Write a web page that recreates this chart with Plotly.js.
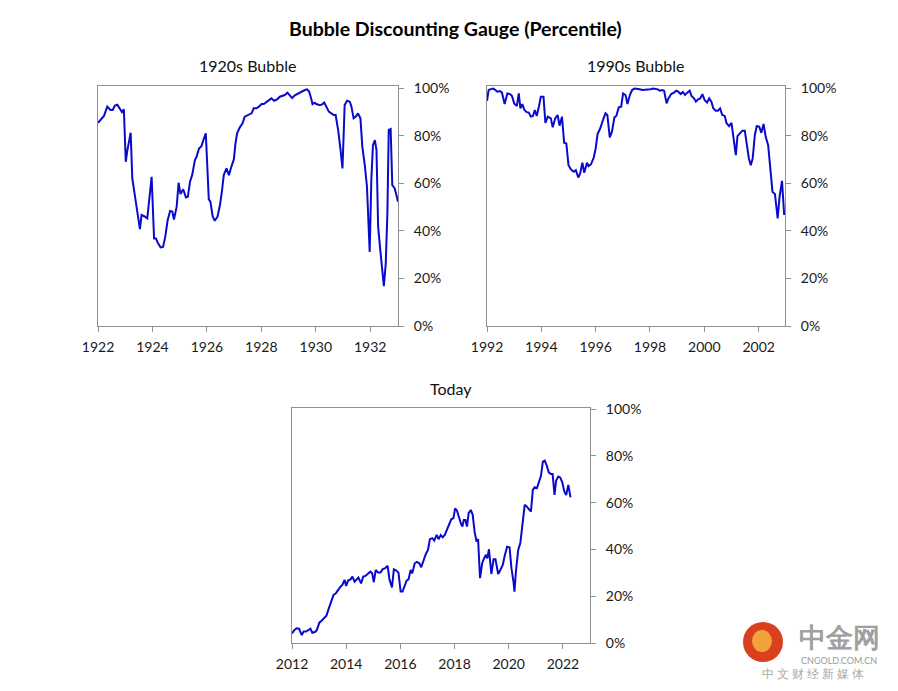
<!DOCTYPE html>
<html><head><meta charset="utf-8">
<script src="https://cdn.plot.ly/plotly-3.0.1.min.js"></script>
<style>html,body{margin:0;padding:0;background:#fff}</style>
</head><body><div id="chart" style="width:898px;height:691px"></div>
<script>
// 1920s Bubble (decimal years, percentile %)
const x1920s = [1922.00,1922.13,1922.22,1922.34,1922.46,1922.54,1922.62,1922.71,1922.81,1922.88,1922.95,1923.02,1923.08,1923.20,1923.26,1923.36,1923.46,1923.54,1923.60,1923.70,1923.81,1923.88,1923.97,1924.06,1924.13,1924.21,1924.30,1924.39,1924.47,1924.56,1924.65,1924.73,1924.79,1924.89,1924.96,1925.03,1925.13,1925.23,1925.30,1925.38,1925.46,1925.56,1925.62,1925.71,1925.80,1925.87,1925.96,1926.07,1926.13,1926.21,1926.29,1926.39,1926.48,1926.55,1926.62,1926.72,1926.81,1926.89,1926.99,1927.05,1927.11,1927.21,1927.31,1927.39,1927.52,1927.64,1927.72,1927.82,1927.91,1928.01,1928.09,1928.19,1928.29,1928.37,1928.47,1928.58,1928.68,1928.78,1928.86,1928.96,1929.05,1929.13,1929.23,1929.31,1929.41,1929.50,1929.60,1929.68,1929.76,1929.82,1929.88,1929.96,1930.02,1930.12,1930.21,1930.31,1930.39,1930.48,1930.57,1930.66,1930.73,1930.82,1930.91,1930.98,1931.03,1931.06,1931.15,1931.25,1931.31,1931.39,1931.47,1931.55,1931.64,1931.71,1931.80,1931.88,1931.98,1932.04,1932.10,1932.17,1932.23,1932.29,1932.37,1932.45,1932.50,1932.57,1932.63,1932.68,1932.75,1932.81,1932.90,1932.96,1933.02];
const y1920s = [85.5,87.4,88.4,92.3,90.9,90.9,92.8,93.1,91.2,90.0,91.2,69.1,74.0,81.3,62.1,55.1,47.4,40.8,46.7,46.2,45.3,54.4,62.8,36.8,36.8,34.7,33.1,33.3,37.5,44.6,48.4,48.2,44.8,50.2,60.3,55.5,57.5,54.1,54.4,60.7,63.5,69.8,71.2,74.7,75.7,78.2,81.1,53.3,52.3,46.2,44.3,46.0,50.9,56.5,63.5,66.3,63.5,66.7,70.1,76.8,81.1,83.6,85.3,88.1,88.8,89.5,91.6,91.6,92.3,93.4,93.4,94.4,95.1,95.8,94.8,95.4,96.5,96.8,97.2,98.2,96.8,95.9,97.1,97.6,98.2,99.0,99.3,99.6,98.6,96.2,93.4,94.0,93.4,93.0,93.1,94.0,92.3,90.2,89.5,88.8,88.8,82.5,74.0,66.3,82.5,93.0,94.8,94.4,92.3,87.4,88.1,89.5,87.4,75.4,67.7,58.6,31.2,61.4,76.1,78.2,74.0,41.8,31.9,22.1,16.8,26.3,47.4,82.5,82.9,59.3,57.9,55.1,52.3];

// 1990s Bubble
const x1990s = [1992.00,1992.06,1992.14,1992.23,1992.31,1992.38,1992.48,1992.55,1992.65,1992.75,1992.85,1992.92,1993.00,1993.10,1993.17,1993.23,1993.30,1993.38,1993.46,1993.54,1993.61,1993.69,1993.76,1993.83,1993.91,1993.98,1994.08,1994.15,1994.24,1994.35,1994.42,1994.51,1994.60,1994.67,1994.76,1994.84,1994.92,1995.00,1995.09,1995.19,1995.27,1995.36,1995.43,1995.51,1995.58,1995.68,1995.74,1995.83,1995.93,1996.00,1996.07,1996.17,1996.27,1996.36,1996.43,1996.52,1996.60,1996.69,1996.76,1996.85,1996.94,1997.01,1997.10,1997.17,1997.26,1997.34,1997.43,1997.53,1997.62,1997.72,1997.82,1997.92,1998.02,1998.12,1998.22,1998.29,1998.36,1998.45,1998.52,1998.61,1998.68,1998.78,1998.88,1998.97,1999.04,1999.13,1999.21,1999.29,1999.37,1999.46,1999.53,1999.62,1999.69,1999.77,1999.85,1999.93,2000.01,2000.10,2000.18,2000.26,2000.33,2000.42,2000.50,2000.58,2000.66,2000.75,2000.82,2000.91,2001.00,2001.07,2001.16,2001.22,2001.32,2001.40,2001.49,2001.56,2001.64,2001.71,2001.78,2001.86,2001.93,2002.02,2002.10,2002.18,2002.26,2002.35,2002.42,2002.51,2002.60,2002.70,2002.77,2002.86,2002.94];
const y1990s = [94.8,99.3,99.7,99.9,99.3,98.6,98.9,98.2,93.4,97.9,97.6,96.8,93.7,92.6,97.9,91.6,93.4,90.9,90.0,89.8,88.1,88.4,90.9,88.4,92.3,96.5,96.5,85.5,88.1,87.4,83.6,87.4,88.8,84.3,88.1,77.1,76.8,67.7,65.9,64.9,65.6,62.5,64.2,68.7,64.5,68.7,67.3,68.1,70.9,74.7,80.8,83.2,86.7,89.5,88.8,79.4,81.8,87.8,88.4,92.0,92.3,97.9,97.2,93.4,97.2,99.3,99.9,99.9,99.6,99.3,99.3,99.6,99.6,99.9,99.9,99.6,99.0,99.3,99.0,93.7,95.8,97.6,98.2,99.0,98.6,97.6,98.5,97.2,98.2,99.0,96.8,95.8,94.4,95.4,95.8,97.6,95.1,94.0,95.8,94.4,91.6,90.6,90.6,91.6,88.8,88.4,85.3,84.1,85.5,79.6,71.9,79.9,81.3,82.2,82.2,76.1,70.5,67.7,70.5,80.4,84.1,83.9,81.3,85.0,79.6,76.1,66.3,56.5,55.5,45.3,54.4,61.1,46.7];

// Today
const xToday = [2012.00,2012.09,2012.17,2012.26,2012.36,2012.43,2012.52,2012.60,2012.68,2012.75,2012.85,2012.92,2013.01,2013.10,2013.18,2013.27,2013.36,2013.44,2013.53,2013.62,2013.70,2013.79,2013.86,2013.94,2014.00,2014.07,2014.16,2014.23,2014.31,2014.38,2014.45,2014.55,2014.63,2014.71,2014.80,2014.89,2014.96,2015.02,2015.09,2015.18,2015.27,2015.34,2015.44,2015.53,2015.60,2015.69,2015.76,2015.85,2015.93,2016.01,2016.08,2016.16,2016.23,2016.30,2016.38,2016.44,2016.53,2016.61,2016.70,2016.77,2016.86,2016.94,2017.02,2017.09,2017.18,2017.25,2017.34,2017.41,2017.49,2017.56,2017.64,2017.72,2017.81,2017.88,2017.96,2018.02,2018.09,2018.17,2018.24,2018.29,2018.34,2018.40,2018.46,2018.52,2018.60,2018.67,2018.74,2018.81,2018.87,2018.94,2019.02,2019.09,2019.16,2019.21,2019.27,2019.36,2019.44,2019.51,2019.61,2019.69,2019.78,2019.85,2019.94,2020.03,2020.10,2020.18,2020.21,2020.27,2020.35,2020.43,2020.52,2020.59,2020.67,2020.74,2020.82,2020.89,2020.96,2021.04,2021.11,2021.19,2021.26,2021.33,2021.41,2021.48,2021.56,2021.62,2021.69,2021.75,2021.83,2021.90,2021.98,2022.05,2022.12,2022.20,2022.28];
const yToday = [4.1,5.6,6.3,6.1,3.4,4.9,4.9,5.6,6.1,4.4,4.7,5.6,8.7,9.6,10.6,11.7,14.8,17.7,20.5,21.3,22.7,24.1,24.8,27.0,24.4,26.7,27.2,28.4,26.2,27.0,28.0,25.5,28.4,28.7,29.8,30.5,29.8,26.0,31.2,30.1,30.1,31.5,32.0,33.0,27.0,23.8,31.5,31.0,30.1,22.0,22.0,24.8,26.7,27.2,31.2,29.8,34.1,34.7,34.1,32.4,35.5,38.1,39.8,44.4,44.8,43.8,46.2,44.4,46.2,45.2,46.2,48.4,50.8,52.9,53.4,57.6,56.6,53.4,50.9,49.8,52.6,52.6,49.8,55.5,56.9,54.8,47.6,43.4,44.4,27.7,34.1,36.2,37.7,36.2,40.1,29.5,35.8,35.8,29.5,31.2,33.4,37.2,41.2,40.9,32.0,25.8,22.0,31.2,39.8,42.9,51.9,59.1,58.3,57.2,56.2,65.5,66.6,66.2,69.0,71.5,77.6,78.0,75.7,72.9,72.3,72.3,63.3,69.5,71.2,70.8,68.6,64.8,63.3,67.6,62.3];

const xTicks1 = [1922,1924,1926,1928,1930,1932];
const xTicks2 = [1992,1994,1996,1998,2000,2002];
const xTicks3 = [2012,2014,2016,2018,2020,2022];
const yTicks = [0,20,40,60,80,100];
const yTickText = ['0%','20%','40%','60%','80%','100%'];

const W = 898, H = 691;
const px = x => x / W;
const py = y => 1 - y / H;
const FONT = 'Lato, "Open Sans", sans-serif';
const LINE = '#0A0ACD';
const FRAME = '#8f8f8f';

function xa(dom, range, ticks, anchor) {
  return {domain: dom, range: range, anchor: anchor, tickvals: ticks, ticktext: ticks.map(String),
    showgrid: false, zeroline: false, showline: true, mirror: true, linecolor: FRAME, linewidth: 1,
    ticks: 'outside', ticklen: 5, tickcolor: FRAME, ticklabelstandoff: 3,
    tickfont: {family: FONT, size: 14, color: '#1a1a1a'}, fixedrange: true};
}
function ya(dom, range, anchor) {
  return {domain: dom, range: range, side: 'right', anchor: anchor, tickvals: yTicks, ticktext: yTickText,
    showgrid: false, zeroline: false, showline: true, mirror: true, linecolor: FRAME, linewidth: 1,
    ticks: 'outside', ticklen: 5, tickcolor: FRAME, ticklabelstandoff: 7,
    tickfont: {family: FONT, size: 14, color: '#1a1a1a'}, fixedrange: true};
}

const traces = [
  {x: x1920s, y: y1920s, xaxis: 'x', yaxis: 'y', type: 'scatter', mode: 'lines', line: {color: LINE, width: 2}, hoverinfo: 'skip'},
  {x: x1990s, y: y1990s, xaxis: 'x2', yaxis: 'y2', type: 'scatter', mode: 'lines', line: {color: LINE, width: 2}, hoverinfo: 'skip'},
  {x: xToday, y: yToday, xaxis: 'x3', yaxis: 'y3', type: 'scatter', mode: 'lines', line: {color: LINE, width: 2}, hoverinfo: 'skip'}
];

const ann = (text, x, y, size, bold, color) => ({text: bold ? '<b>' + text + '</b>' : text, x: px(x), y: py(y),
  xref: 'paper', yref: 'paper', xanchor: 'center', yanchor: 'middle', showarrow: false,
  font: {family: FONT, size: size, color: color || '#111'}});

const layout = {
  width: W, height: H, margin: {l: 0, r: 0, t: 0, b: 0},
  paper_bgcolor: '#fff', plot_bgcolor: '#fff', showlegend: false,
  xaxis: xa([px(98), px(398)], [1922, 1933.02], xTicks1, 'y'),
  yaxis: ya([py(326), py(86)], [0, 101], 'x'),
  xaxis2: xa([px(487), px(785)], [1992, 2002.97], xTicks2, 'y2'),
  yaxis2: ya([py(326), py(86)], [0, 101], 'x2'),
  xaxis3: xa([px(292), px(590)], [2012, 2023], xTicks3, 'y3'),
  yaxis3: ya([py(643), py(408)], [0, 100.5], 'x3'),
  annotations: [
    ann('Bubble Discounting Gauge (Percentile)', 455, 28, 19.5, true, '#000'),
    ann('1920s Bubble', 247, 65, 16, false),
    ann('1990s Bubble', 635, 65, 16, false),
    ann('Today', 451, 388, 16, false),
    ann('中金网', 839, 636, 27, true, '#a0a0a0'),
    ann('CNGOLD.COM.CN', 839, 660, 9, false, '#9a9a9a'),
    ann('中 文 财 经 新 媒 体', 813, 673, 12, false, '#a8a8a8')
  ],
  shapes: [
    {type: 'circle', xref: 'paper', yref: 'paper', x0: px(743), x1: px(783), y0: py(662), y1: py(622),
     fillcolor: '#d8401e', line: {width: 0}},
    {type: 'circle', xref: 'paper', yref: 'paper', x0: px(752), x1: px(772), y0: py(652), y1: py(630),
     fillcolor: '#f2a23a', line: {width: 0}}
  ]
};
Plotly.newPlot('chart', traces, layout, {displayModeBar: false, staticPlot: true});
</script></body></html>
